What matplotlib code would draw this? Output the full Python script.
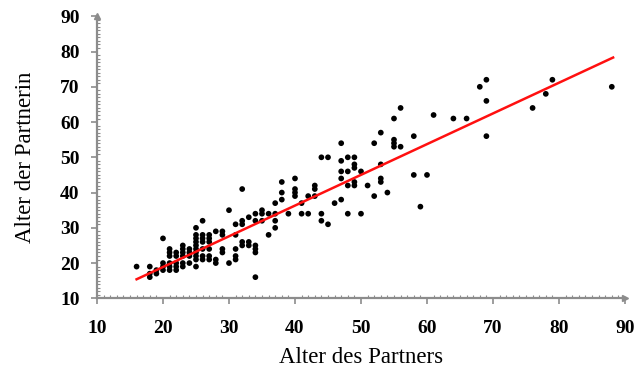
import matplotlib
matplotlib.use('Agg')
import matplotlib.pyplot as plt
from matplotlib.ticker import MultipleLocator

# Alter des Partners (x) / Alter der Partnerin (y)
partner_age = [
    88, 79, 78, 76, 69, 68, 69, 69, 66, 64, 61, 58, 58, 60, 59, 56, 55, 53, 52, 47,
    55, 55, 55, 56, 44, 45, 48, 49, 47, 49, 49, 47, 48, 50, 47, 53, 48, 49, 49, 51,
    53, 53, 40, 40, 40, 40, 43, 43, 42, 43, 41, 52, 54, 46, 47, 39, 41, 42, 44, 48,
    50, 44, 45,
    38, 38, 38, 37, 32, 30, 35, 34, 35, 36, 37, 33, 32, 31, 32, 34, 35, 37, 37, 36,
    31, 26, 28, 29, 29, 27, 25, 25, 26, 25, 26, 27, 25, 26, 27, 32, 33, 32, 33, 34,
    34, 34, 29, 29, 31, 26, 27, 25, 25, 26, 27, 25, 26, 27, 28, 28, 31, 31, 30, 25,
    34,
    16, 18, 18, 18, 19, 20, 19, 20, 20, 20, 21, 21, 21, 21, 21, 21, 22, 22, 22, 22,
    22, 23, 23, 23, 23, 23, 23, 24, 24, 24, 24, 25, 25,
]
partnerin_age = [
    70, 72, 68, 64, 72, 70, 66, 56, 61, 61, 62, 56, 45, 45, 36, 64, 61, 57, 54, 54,
    55, 54, 53, 53, 50, 50, 50, 50, 49, 48, 47, 46, 46, 46, 44, 48, 42, 42, 43, 42,
    44, 43, 44, 41, 40, 39, 42, 41, 39, 39, 37, 39, 40, 37, 38, 34, 34, 34, 34, 34,
    34, 32, 31,
    43, 40, 38, 37, 41, 35, 35, 34, 34, 34, 34, 33, 32, 31, 31, 32, 32, 32, 30, 28,
    28, 32, 29, 29, 28, 28, 30, 28, 28, 27, 27, 27, 26, 26, 26, 26, 26, 25, 25, 25,
    24, 23, 24, 23, 24, 24, 24, 24, 22, 22, 22, 21, 21, 21, 21, 20, 22, 21, 20, 19,
    16,
    19, 19, 17, 16, 17, 27, 18, 18, 20, 19, 24, 23, 22, 20, 19, 18, 23, 22, 20, 19,
    18, 25, 24, 23, 22, 20, 19, 24, 23, 22, 20, 25, 23,
]

# regression line end points
trend_x = [16, 88.2]
trend_y = [15.4, 78.3]

x_label = 'Alter des Partners'
y_label = 'Alter der Partnerin'

axis_gray = '#8c8c8c'

fig = plt.figure(figsize=(6.36, 3.78), dpi=100)
ax = fig.add_axes([0.1525, 0.2108, 0.8302, 0.7461])

ax.scatter(partner_age, partnerin_age, s=17, c='black', edgecolors='none', zorder=3)
ax.plot(trend_x, trend_y, color='#ff1010', linewidth=1.8, zorder=4)

ax.set_xlim(10, 90)
ax.set_ylim(10, 90)
ax.xaxis.set_major_locator(MultipleLocator(10))
ax.yaxis.set_major_locator(MultipleLocator(10))
ax.xaxis.set_minor_locator(MultipleLocator(1))
ax.yaxis.set_minor_locator(MultipleLocator(1))

for side in ['top', 'right']:
    ax.spines[side].set_visible(False)
for side in ['left', 'bottom']:
    ax.spines[side].set_color(axis_gray)
    ax.spines[side].set_linewidth(1.6)

ax.tick_params(which='major', direction='out', length=4.5, width=1.2,
               color=axis_gray, labelsize=14)
ax.tick_params(axis='x', which='major', pad=11)
ax.tick_params(axis='y', which='major', pad=8)
ax.tick_params(which='minor', direction='in', length=2.2, width=0.8,
               color=axis_gray)
for lab in ax.get_xticklabels() + ax.get_yticklabels():
    lab.set_family('Liberation Serif')
    lab.set_fontweight('bold')

# arrow heads on the axes
ax.plot(1, 0, '>', color=axis_gray, ms=5, transform=ax.transAxes, clip_on=False)
ax.plot(0, 1, '^', color=axis_gray, ms=5, transform=ax.transAxes, clip_on=False)

ax.set_xlabel(x_label, family='Liberation Serif', fontsize=16.5, labelpad=7)
ax.set_ylabel(y_label, family='Liberation Serif', fontsize=16.5, labelpad=17)

fig.savefig('out.png', dpi=100)
